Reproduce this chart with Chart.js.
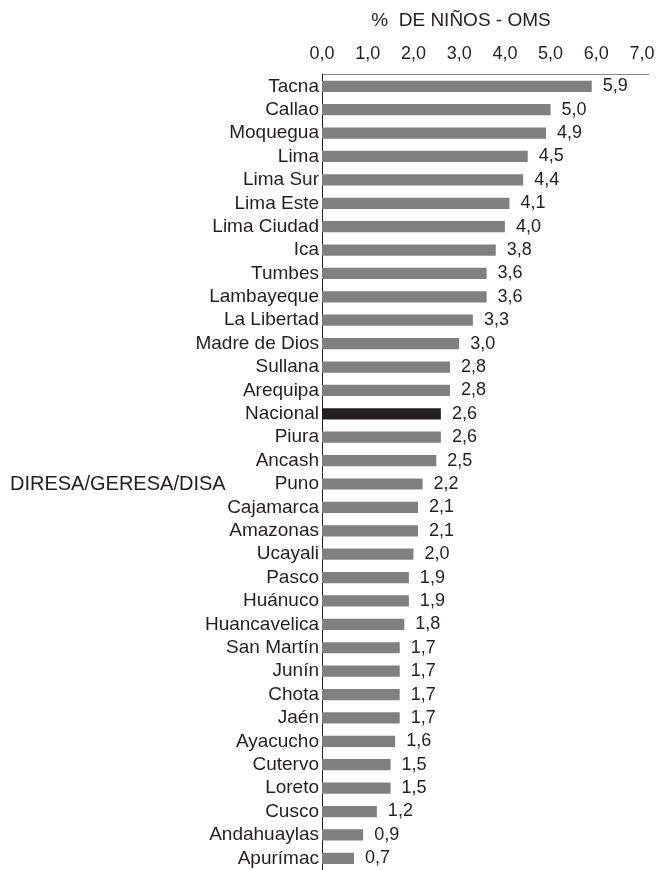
<!DOCTYPE html>
<html>
<head>
<meta charset="utf-8">
<script src="https://cdn.jsdelivr.net/npm/chart.js@4.4.0/dist/chart.umd.min.js"></script>
<style>
  html, body { margin: 0; padding: 0; background: #fff; }
  #wrap { width: 661px; height: 870px; position: relative; }
</style>
</head>
<body>
<div id="wrap"><canvas id="myChart"></canvas></div>
<script>
// datos
const regiones = ['Tacna', 'Callao', 'Moquegua', 'Lima', 'Lima Sur', 'Lima Este', 'Lima Ciudad', 'Ica',
    'Tumbes', 'Lambayeque', 'La Libertad', 'Madre de Dios', 'Sullana', 'Arequipa', 'Nacional', 'Piura',
    'Ancash', 'Puno', 'Cajamarca', 'Amazonas', 'Ucayali', 'Pasco', 'Huánuco', 'Huancavelica', 'San Martín',
    'Junín', 'Chota', 'Jaén', 'Ayacucho', 'Cutervo', 'Loreto', 'Cusco', 'Andahuaylas', 'Apurímac'];
const porcentajes = [5.9, 5.0, 4.9, 4.5, 4.4, 4.1, 4.0, 3.8, 3.6, 3.6, 3.3, 3.0, 2.8, 2.8, 2.6, 2.6,
    2.5, 2.2, 2.1, 2.1, 2.0, 1.9, 1.9, 1.8, 1.7, 1.7, 1.7, 1.7, 1.6, 1.5, 1.5, 1.2, 0.9, 0.7];
const ticksX = [0, 1, 2, 3, 4, 5, 6, 7];
const tituloX = '%  DE NIÑOS - OMS';
const tituloY = 'DIRESA/GERESA/DISA';
const filaTituloY = 'Puno';

const colorTexto = '#231f20';
const colorBarra = '#808080';
const colorNacional = '#231f20';
const fuente = "'Liberation Sans', Arial, sans-serif";

function coma(v) {
    return v.toFixed(1).replace('.', ',');
}

// etiquetas de valor y titulos
const etiquetas = {
    id: 'etiquetas',
    afterDatasetsDraw(chart) {
        const ctx = chart.ctx;
        const meta = chart.getDatasetMeta(0);
        ctx.save();
        ctx.fillStyle = colorTexto;
        ctx.font = '18px ' + fuente;
        ctx.textAlign = 'left';
        ctx.textBaseline = 'middle';
        meta.data.forEach(function (bar, i) {
            ctx.fillText(coma(porcentajes[i]), bar.x + 11, bar.y);
        });

        const area = chart.chartArea;
        ctx.textAlign = 'center';
        ctx.font = '19px ' + fuente;
        ctx.fillText(tituloX, area.left + 139, 21);

        const yScale = chart.scales.y;
        const yPuno = yScale.getPixelForValue(regiones.indexOf(filaTituloY));
        ctx.textAlign = 'left';
        ctx.font = '20px ' + fuente;
        ctx.fillText(tituloY, 10, yPuno);
        ctx.restore();
    }
};

const ctx = document.getElementById('myChart').getContext('2d');
const myChart = new Chart(ctx, {
    type: 'bar',
    data: {
        labels: regiones,
        datasets: [{
            data: porcentajes,
            backgroundColor: regiones.map(r => r === 'Nacional' ? colorNacional : colorBarra),
            borderWidth: 0,
            categoryPercentage: 1,
            barPercentage: 0.48
        }]
    },
    options: {
        indexAxis: 'y',
        responsive: true,
        maintainAspectRatio: false,
        animation: false,
        layout: { padding: { top: 33, right: 13, bottom: 0, left: 0 } },
        plugins: {
            legend: { display: false },
            tooltip: { enabled: false }
        },
        scales: {
            x: {
                position: 'top',
                min: 0,
                max: 7.13,
                afterBuildTicks: function (scale) {
                    scale.ticks = ticksX.map(v => ({ value: v }));
                },
                afterFit: function (scale) {
                    scale.paddingLeft = 0;
                    scale.paddingRight = 0;
                },
                grid: { display: false, drawTicks: false },
                border: { display: true, color: '#8a8a8a', width: 1 },
                ticks: {
                    color: colorTexto,
                    font: { family: fuente, size: 18 },
                    padding: 10,
                    maxRotation: 0,
                    callback: v => coma(v)
                }
            },
            y: {
                afterFit: function (scale) {
                    scale.width = 322;
                    scale.paddingTop = 0;
                    scale.paddingBottom = 0;
                },
                grid: { display: false, drawTicks: false },
                border: { display: true, color: colorTexto, width: 1 },
                ticks: {
                    color: colorTexto,
                    font: { family: fuente, size: 19 },
                    padding: 3,
                    autoSkip: false
                }
            }
        }
    },
    plugins: [etiquetas]
});
</script>
</body>
</html>
